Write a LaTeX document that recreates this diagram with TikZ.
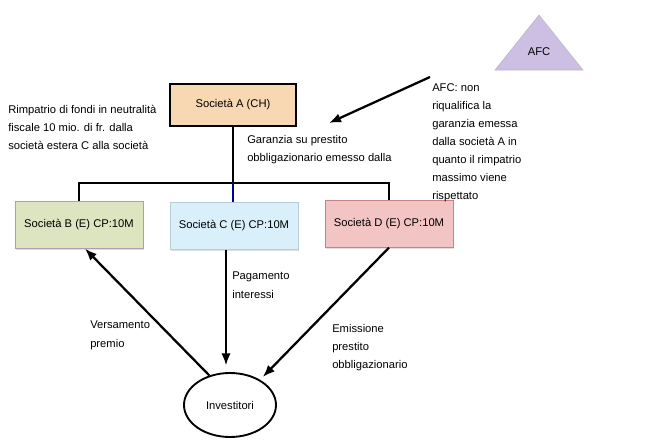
\documentclass[tikz,border=0pt]{standalone}
\usepackage{fontspec}
\setmainfont{Liberation Sans}
\usetikzlibrary{arrows.meta,shadows,calc,shapes.geometric}

\definecolor{peachA}{HTML}{F7D8B3}
\definecolor{greenB}{HTML}{DDE4C0}
\definecolor{blueC}{HTML}{D9F0FB}
\definecolor{pinkD}{HTML}{F2C5C4}
\definecolor{lilac}{HTML}{CDBFE3}

\tikzset{
  societa/.style={rectangle, minimum width=96pt, minimum height=35pt, inner sep=2pt,
    drop shadow={opacity=0.25, shadow xshift=1pt, shadow yshift=-1pt}},
  nota/.style={align=left, anchor=north west, inner sep=0pt, font=\fontsize{8.4}{13.6}\selectfont},
  freccia/.style={line width=1.7pt, -{Latex[length=9pt,width=7pt]}},
  ramo/.style={line width=1.5pt}
}

\begin{document}
\begin{tikzpicture}[x=0.75pt, y=-0.75pt, font=\fontsize{8.4}{11}\selectfont]
  \useasboundingbox (0,0) rectangle (649,439);

  % AFC
  \draw[fill=lilac, draw=lilac!70!black!60] (539,15) -- (583,70) -- (495,70) -- cycle;
  \node (afc) at (539,52) {AFC};
  \coordinate (afcfoot) at (430,77);
  \coordinate (garanzia) at (329,123);
  \draw[freccia] (afcfoot) -- (garanzia);

  % holding and subsidiaries
  \node[rectangle, fill=peachA, draw, line width=1.6pt, minimum width=94pt, minimum height=31pt] (A) at (233,105) {Società A (CH)};
  \node[societa, fill=greenB, draw=gray!70!violet!60] (B) at (79,225) {Società B (E) CP:10M};
  \node[societa, fill=blueC, draw=cyan!30!gray!50] (C) at (234,226) {Società C (E) CP:10M};
  \node[societa, fill=pinkD, draw=red!40!gray!70] (D) at (389,224) {Società D (E) CP:10M};

  \coordinate (nodo) at (233,183);
  \draw[ramo] (A.south) -- (nodo);
  \draw[ramo] (B.north) |- (nodo) -| (D.north);
  \draw[blue!60!black, line width=0.8pt] (nodo) -- (nodo |- C.north);

  % investors
  \node[ellipse, draw, line width=1.4pt, minimum width=69pt, minimum height=48pt] (inv) at (230,405) {Investitori};
  \draw[freccia] (inv.125) -- ([xshift=4.5pt]B.south);
  \draw[freccia, shorten >=5pt] ([xshift=-6pt]C.south) -- ([xshift=-3pt]inv.north);
  \draw[freccia, shorten >=3pt] (D.south) -- (inv.40);

  % notes
  \node[nota] (rimp) at (8,105) {Rimpatrio di fondi in neutralità\\fiscale 10 mio. di fr. dalla\\società estera C alla società};
  \node[nota] (gar) at (247,135) {Garanzia su prestito\\obbligazionario emesso dalla};
  \node[nota] (afcnota) at (432,83) {AFC: non\\riqualifica la\\garanzia emessa\\dalla società A in\\quanto il rimpatrio\\massimo viene\\rispettato};
  \node[nota] (pag) at (232,272) {Pagamento\\interessi};
  \node[nota] (vers) at (90,321) {Versamento\\premio};
  \node[nota] (emis) at (332,324) {Emissione\\prestito\\obbligazionario};
\end{tikzpicture}
\end{document}
